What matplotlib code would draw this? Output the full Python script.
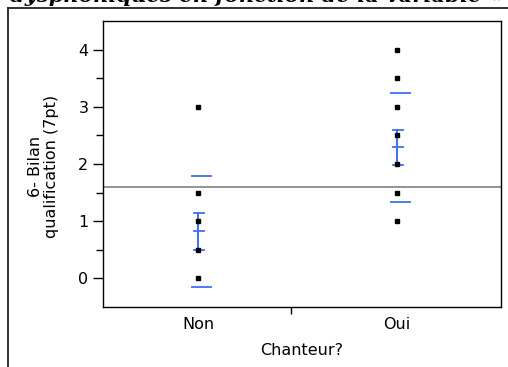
import matplotlib
matplotlib.use("Agg")
import matplotlib.pyplot as plt
from matplotlib.lines import Line2D
import numpy as np

plt.rcParams['font.family'] = ['DejaVu Sans']

# Data
categories = ["Non", "Oui"]
non_values = [3.0, 1.5, 1.0, 0.5, 0.0]
oui_values = [4.0, 3.5, 3.0, 2.5, 2.0, 1.5, 1.0]
group_means = [0.82, 2.29]
ci_low = [0.49, 1.98]
ci_high = [1.15, 2.60]
sd_low = [-0.15, 1.34]
sd_high = [1.79, 3.24]
grand_mean = 1.59
yticks = [0, 1, 2, 3, 4]
title_text = "dysphoniques en fonction de la variable « Chanteur? »"
ylabel = "6- Bilan\nqualification (7pt)"
xlabel = "Chanteur?"

W, H = 508, 367
FS = 11.5
fig = plt.figure(figsize=(W / 100, H / 100), dpi=100)
ax = fig.add_axes([103 / W, 60 / H, 398 / W, 286 / H])

xpos = [0.2387, 0.7387]
sep = 0.472
blue = '#3f6ff0'

groups = [non_values, oui_values]
for i, vals in enumerate(groups):
    ax.plot([xpos[i]] * len(vals), vals, linestyle='none', marker='s',
            markersize=2.2, color='black', zorder=4)
    # std dev lines
    for v in (sd_low[i], sd_high[i]):
        ax.plot([xpos[i] - 0.016, xpos[i] + 0.032], [v, v], color=blue, lw=1.3, zorder=3)
    # error bars
    ax.plot([xpos[i], xpos[i]], [ci_low[i], ci_high[i]], color=blue, lw=1.4, zorder=3)
    for v in (ci_low[i], group_means[i], ci_high[i]):
        ax.plot([xpos[i] - 0.009, xpos[i] + 0.015], [v, v], color=blue, lw=1.3, zorder=3)

ax.axhline(grand_mean, color='#8a8a8a', lw=1.3, zorder=2)

ax.set_xlim(0, 1)
ax.set_ylim(-0.5, 4.5)
ax.set_yticks(yticks)
ax.set_yticks([-0.5 + k * 0.5 for k in range(1, 10)], minor=True)
ax.set_yticklabels([str(t) for t in yticks], fontsize=FS)
ax.tick_params(axis='y', which='major', direction='out', length=7, width=1, pad=3.5)
ax.tick_params(axis='y', which='minor', direction='out', length=5, width=1)

ax.set_xticks(xpos)
ax.set_xticklabels(categories, fontsize=FS)
ax.set_xticks([sep], minor=True)
ax.tick_params(axis='x', which='major', length=0, pad=7)
ax.tick_params(axis='x', which='minor', direction='out', length=5, width=1)

for s in ax.spines.values():
    s.set_linewidth(1)
    s.set_color('black')

ax.set_ylabel(ylabel, fontsize=FS, linespacing=1.1)
ax.yaxis.set_label_coords(-0.11, 0.49)
ax.set_xlabel(xlabel, fontsize=FS, labelpad=8)

# outer frame
fig.add_artist(Line2D([8 / W, 8 / W], [0, 1 - 8 / H], transform=fig.transFigure,
                      color='#222222', lw=1.3))
fig.add_artist(Line2D([8 / W, 1.0], [1 - 8 / H, 1 - 8 / H], transform=fig.transFigure,
                      color='#222222', lw=1.3))

# clipped title
fig.text(10 / W, 1 - 2.5 / H, title_text, fontsize=15.2, fontweight='bold',
         fontstyle='italic', family=['DejaVu Serif'],
         ha='left', va='baseline')

fig.savefig("out.png", dpi=100)
